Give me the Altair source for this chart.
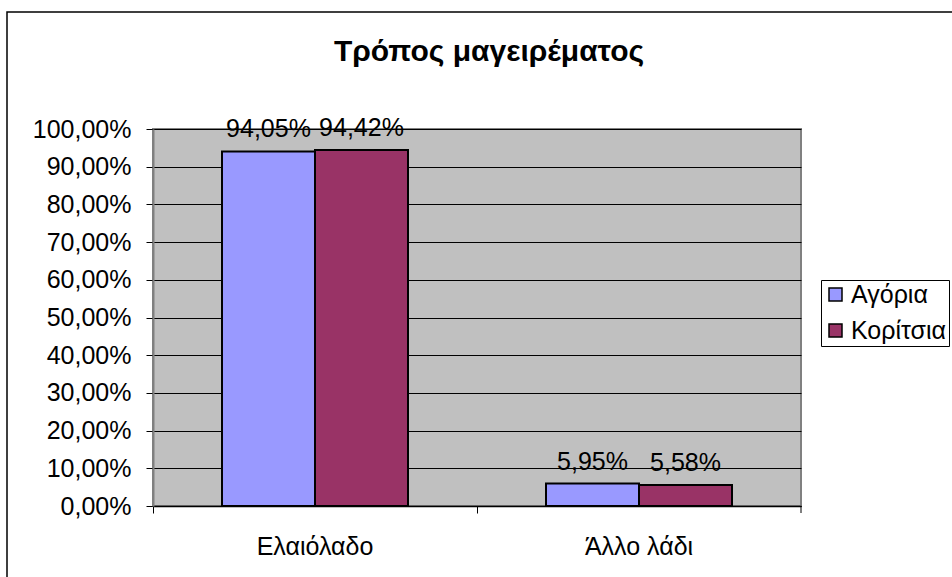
import altair as alt
import pandas as pd

# Cooking-oil usage by gender
categories = ["Ελαιόλαδο", "Άλλο λάδι"]
groups = ["Αγόρια", "Κορίτσια"]
boys = [94.05, 5.95]
girls = [94.42, 5.58]
colors = ["#9999FF", "#993366"]
chart_title = "Τρόπος μαγειρέματος"
y_ticks = [0.0, 0.1, 0.2, 0.3, 0.4, 0.5, 0.6, 0.7, 0.8, 0.9, 1.0]

rows = []
for cat, b, g in zip(categories, boys, girls):
    for grp, v in zip(groups, (b, g)):
        rows.append({
            "cat": cat,
            "grp": grp,
            "val": v / 100.0,
            "lbl": f"{v:.2f}".replace(".", ",") + "%",
        })
df = pd.DataFrame(rows)

FONT = "Liberation Sans"
FS = 25
W, H = 648, 377

x_axis = alt.Axis(
    title=None,
    labelAngle=0,
    labelFont=FONT,
    labelFontSize=FS,
    labelColor="black",
    labelPadding=21,
    tickSize=7,
    tickColor="black",
    bandPosition=0,
    domainColor="black",
    domainWidth=1.5,
    grid=False,
)
x_scale = alt.Scale(paddingInner=0, paddingOuter=0)
y_axis = alt.Axis(
    title=None,
    values=y_ticks,
    labelExpr="replace(format(datum.value, '.2%'), '.', ',')",
    labelOverlap=False,
    labelFont=FONT,
    labelFontSize=FS,
    labelColor="black",
    labelPadding=15,
    tickSize=7,
    tickColor="black",
    domainColor="#808080",
    domainWidth=2,
    grid=True,
    gridColor="black",
    gridWidth=1,
)
y_scale = alt.Scale(domain=[0, 1], nice=False)

x_enc = alt.X("cat:N", sort=categories, scale=x_scale, axis=x_axis)
xoff = alt.XOffset(
    "grp:N",
    sort=groups,
    scale=alt.Scale(paddingInner=0, paddingOuter=0.742),
)
y_enc = alt.Y("val:Q", scale=y_scale, axis=y_axis)

base = alt.Chart(df)

bars = base.mark_bar(stroke="black", strokeWidth=2).encode(
    x=x_enc,
    xOffset=xoff,
    y=y_enc,
    color=alt.Color(
        "grp:N",
        sort=groups,
        scale=alt.Scale(domain=groups, range=colors),
        legend=alt.Legend(
            title=None,
            orient="none",
            legendX=668,
            legendY=151,
            symbolType="square",
            symbolSize=169,
            symbolStrokeColor="black",
            symbolStrokeWidth=1.5,
            symbolOpacity=1,
            labelFont=FONT,
            labelFontSize=FS,
            labelColor="black",
            labelOffset=3,
            rowPadding=10,
            padding=2,
            strokeColor="black",
            fillColor="white",
        ),
    ),
)

labels = base.mark_text(
    font=FONT, fontSize=FS, color="black", baseline="bottom", dy=-9
).encode(
    x=x_enc,
    xOffset=xoff,
    y=y_enc,
    text="lbl:N",
)

# closing tick at the right end of the category axis
end_tick = alt.Chart(pd.DataFrame({"cat": [categories[-1]]})).mark_rule(
    color="black", strokeWidth=1
).encode(
    x=alt.X("cat:N", sort=categories, scale=x_scale, axis=x_axis,
            bandPosition=1),
    y=alt.value(H),
    y2=alt.value(H + 7),
)

one = pd.DataFrame({"k": [0]})

title = alt.Chart(one).mark_text(
    text=chart_title, font=FONT, fontSize=30, fontWeight="bold",
    color="black", align="center", baseline="middle",
).encode(x=alt.value(336), y=alt.value(-77))

frame = alt.Chart(one).mark_rect(
    fill=None, stroke="black", strokeWidth=1.5, clip=False
).encode(
    x=alt.value(-146), x2=alt.value(W + 170),
    y=alt.value(-117), y2=alt.value(H + 90),
)

chart = alt.layer(bars, labels, end_tick, title, frame).properties(
    width=W,
    height=H,
    padding={"left": 153, "top": 129, "right": 151, "bottom": 71},
    autosize=alt.AutoSizeParams(type="none"),
    background="white",
).configure_view(
    fill="#C0C0C0", stroke="#808080", strokeWidth=2
)

chart.save("out.html", embed_options={"renderer": "svg", "actions": False})
